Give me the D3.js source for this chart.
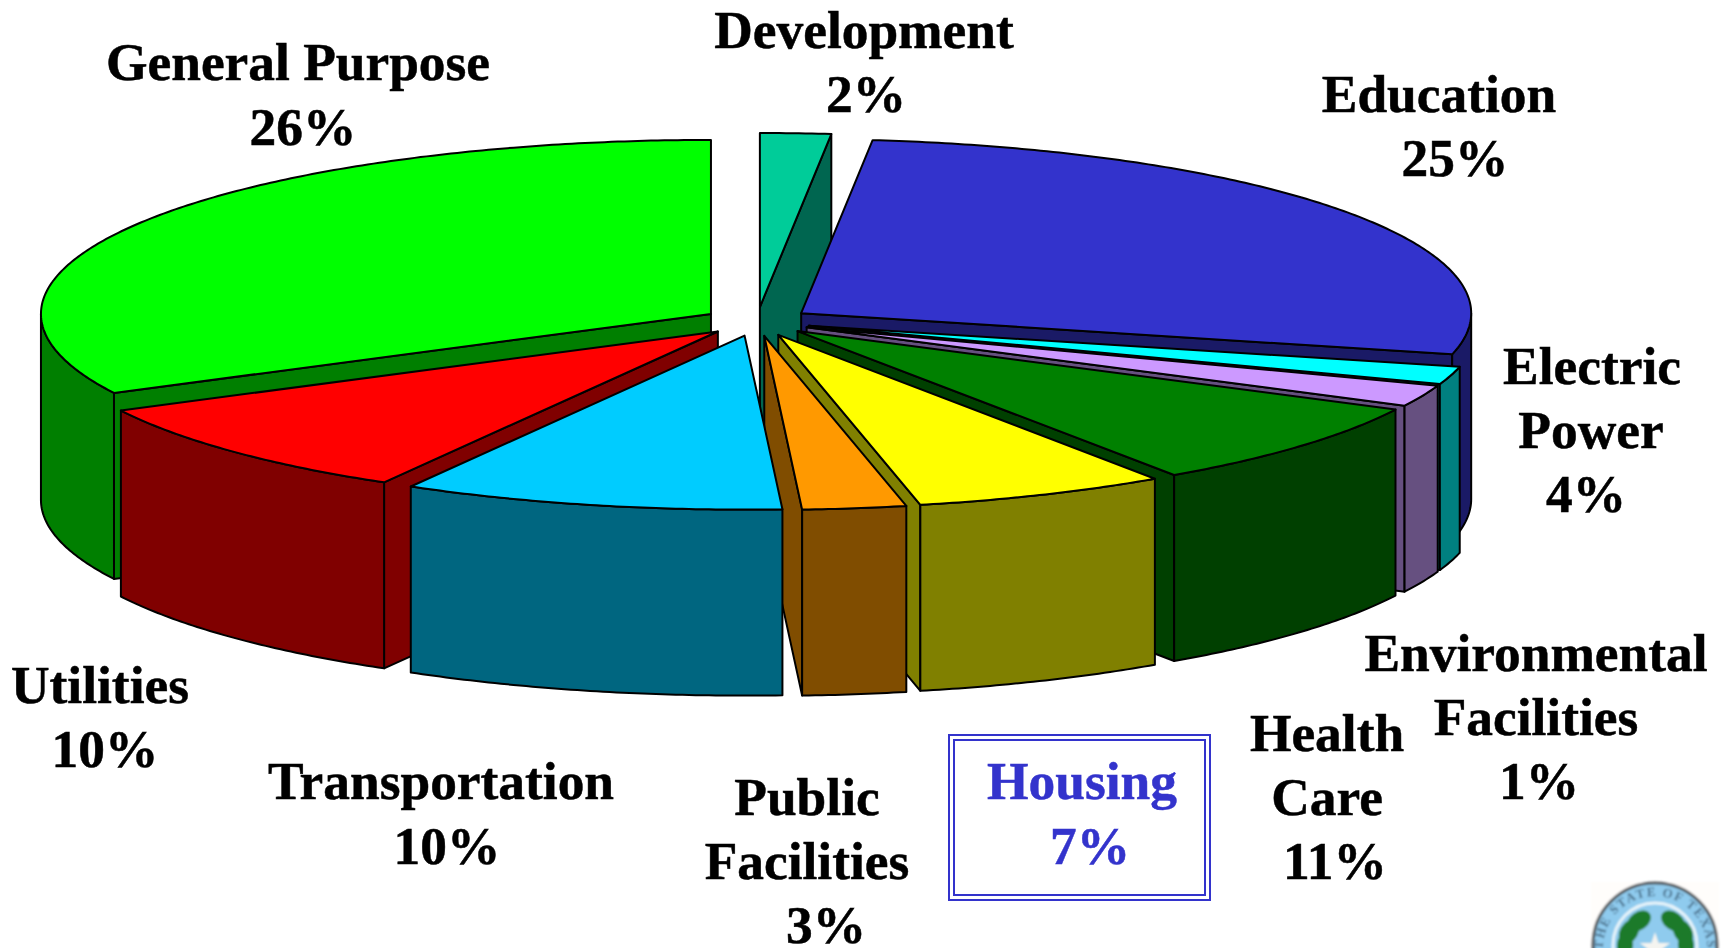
<!DOCTYPE html>
<html>
<head>
<meta charset="utf-8">
<script src="https://cdn.jsdelivr.net/npm/d3@7/dist/d3.min.js"></script>
<style>html,body{margin:0;padding:0;background:#fff;overflow:hidden}svg{display:block}</style>
</head>
<body>
<svg id="chart" width="1726" height="948"></svg>
<script>
// Slices clockwise from 12 o'clock
const categories = ["Development","Education","Electric Power","Environmental Facilities","Health Care","Housing","Public Facilities","Transportation","Utilities","General Purpose"];
// Percentages printed on the chart
const printedPercent = [2,25,4,1,11,7,3,10,10,26];
// Share of the ellipse each slice visibly occupies in the picture (the tilted 3-D view distorts it)
const visibleShare = [1.7,27.1,1.65,2.0,8.05,6.1,2.5,9.2,9.2,32.5];
const topColors  = ["#00cc99","#3333cc","#00ffff","#cc99ff","#008000","#ffff00","#ff9900","#00ccff","#ff0000","#00ff00"];
const sideColors = ["#006650","#1a1a66","#008080","#665080","#004000","#808000","#804d00","#006680","#800000","#007f00"];
// Back-to-front painting order
const paintOrder = ["Development","General Purpose","Education","Electric Power","Environmental Facilities","Health Care","Housing","Public Facilities","Utilities","Transportation"];
// Label lines per category: [text, centre x, baseline y]
const labelLines = {
  "General Purpose":[["General Purpose",298,80],["%",303,145]],
  "Development":[["Development",864,48],["%",866,112]],
  "Education":[["Education",1439,112],["%",1455,176]],
  "Electric Power":[["Electric",1592,384],["Power",1591,448],["%",1586,512]],
  "Environmental Facilities":[["Environmental",1536,671],["Facilities",1536,735],["%",1539,799]],
  "Health Care":[["Health",1327,751],["Care",1327,815],["%",1335,879]],
  "Housing":[["Housing",1082,799],["%",1090,864]],
  "Public Facilities":[["Public",807,815],["Facilities",807,879],["%",826,943]],
  "Transportation":[["Transportation",441,799],["%",447,864]],
  "Utilities":[["Utilities",100,703],["%",105,767]]
};

const cx = 757, cy = 321.5, rx = 670, ry = 174, depth = 186, explodeX = 54, explodeY = 14.5;
const svg = d3.select("#chart");
const TAU = Math.PI * 2;

const sliceData = d3.pie().sort(null).value(d => d.share).startAngle(0).endAngle(TAU)(
  categories.map((name,i) => ({name, share:visibleShare[i], pct:printedPercent[i], top:topColors[i], side:sideColors[i]}))
);

const unitX = d3.scaleLinear().domain([-1,1]).range([-rx,rx]);
const unitY = d3.scaleLinear().domain([-1,1]).range([ry,-ry]);
const line = d3.line();

function geom(s){
  const mid = (s.startAngle + s.endAngle)/2;
  const ax = cx + explodeX*Math.sin(mid), ay = cy - explodeY*Math.cos(mid);
  const rim = t => [ax + unitX(Math.sin(t)), ay + unitY(Math.cos(t))];
  return {ax, ay, rim};
}
function arcPts(g,a,b){
  const n = Math.max(2, Math.ceil((b-a)/0.01));
  return d3.range(n+1).map(i => g.rim(a + (b-a)*i/n));
}
const drop = p => [p[0], p[1]+depth];

function drawSlice(s){
  const g = geom(s), a = s.startAngle, b = s.endAngle, d = s.data;
  const grp = svg.append("g").attr("class","slice").attr("data-name",d.name)
    .attr("stroke","#000").attr("stroke-width",2).attr("stroke-linejoin","round");
  const face = pts => grp.append("path").attr("d",line(pts)+"Z").attr("fill",d.side);
  const apex = [g.ax,g.ay];
  if (Math.sin(a) < -1e-6) { const e=g.rim(a); face([apex,e,drop(e),drop(apex)]); }
  if (Math.sin(b) >  1e-6) { const e=g.rim(b); face([apex,e,drop(e),drop(apex)]); }
  const w0 = Math.max(a,Math.PI/2), w1 = Math.min(b,Math.PI*1.5);
  if (w1 > w0) { const pts = arcPts(g,w0,w1); face(pts.concat(pts.map(drop).reverse())); }
  grp.append("path").attr("d",line([apex].concat(arcPts(g,a,b)))+"Z").attr("fill",d.top);
}
const byName = new Map(sliceData.map(s => [s.data.name,s]));
paintOrder.forEach(n => drawSlice(byName.get(n)));

// Housing call-out box
svg.append("rect").attr("x",949).attr("y",735).attr("width",261).attr("height",165)
  .attr("fill","#fff").attr("stroke","#3333cc").attr("stroke-width",2);
svg.append("rect").attr("x",954).attr("y",740).attr("width",251).attr("height",155)
  .attr("fill","none").attr("stroke","#3333cc").attr("stroke-width",2);

// Labels
sliceData.forEach(s => {
  const col = s.data.name==="Housing" ? "#3333cc" : "#000";
  labelLines[s.data.name].forEach(([t,x,y]) => {
    svg.append("text").attr("x",x).attr("y",y).attr("text-anchor","middle")
      .attr("font-family","'Liberation Serif','Times New Roman',serif").attr("font-weight","bold")
      .attr("font-size",53.4).attr("fill",col).attr("stroke",col).attr("stroke-width",0.5)
      .text(t==="%" ? s.data.pct+"%" : t);
  });
});

// State seal, cropped by the bottom of the page
const defs = svg.append("defs");
defs.append("filter").attr("id","sealBlur").append("feGaussianBlur").attr("stdDeviation",0.8);
defs.append("path").attr("id","sealArc").attr("d","M-52,3A52,52 0 0 1 52,3");
const seal = svg.append("g").attr("transform","translate(1655,945)").attr("filter","url(#sealBlur)");
seal.append("rect").attr("x",-64).attr("y",-63).attr("width",128).attr("height",66).attr("fill","#fffdfb");
seal.append("circle").attr("r",62).attr("fill","#8fcbee").attr("stroke","#555b60").attr("stroke-width",3);
seal.append("circle").attr("r",42).attr("fill","#8fcbee").attr("stroke","#e8f4fa").attr("stroke-width",3);
seal.append("text").attr("font-family","'Liberation Serif',serif").attr("font-size",13).attr("font-weight","bold")
  .attr("fill","#4a6f8a").attr("letter-spacing",1.5)
  .append("textPath").attr("href","#sealArc").attr("startOffset","50%").attr("text-anchor","middle").text("THE STATE OF TEXAS");
const wreath = [[-16,-24,9,13,55],[-26,-13,9,13,30],[-30,0,8,12,5],[18,-24,9,13,-55],[28,-13,9,13,-30],[31,0,8,12,-5]];
seal.selectAll("ellipse").data(wreath).enter().append("ellipse")
  .attr("rx",d=>d[2]).attr("ry",d=>d[3]).attr("fill","#1c7a2a")
  .attr("transform",d=>`translate(${d[0]},${d[1]}) rotate(${d[4]})`);
seal.append("path").attr("d",d3.symbol(d3.symbolStar,290)()).attr("fill","#f4f4f0").attr("transform","translate(0,3)");
</script>
</body>
</html>
